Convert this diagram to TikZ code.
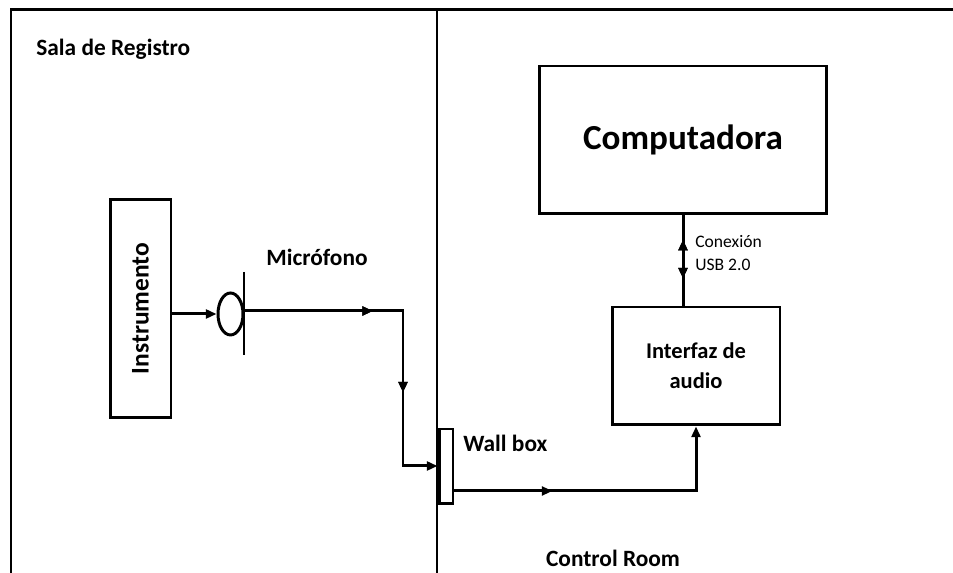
\documentclass[tikz,border=0pt]{standalone}
\usepackage{fontspec}
\setmainfont{Carlito}
\usetikzlibrary{arrows.meta,shapes.geometric,decorations.markings,calc}

\tikzset{
  wire/.style={line width=1.7pt},
  tip/.style={-{Triangle[length=6pt,width=5pt]}},
  blockbox/.style={draw,line width=1.7pt,inner sep=0pt},
  lbl/.style={inner sep=0pt,font=\fontsize{13.3}{15}\selectfont\bfseries},
  small/.style={inner sep=0pt,anchor=west,font=\fontsize{10}{12}\selectfont},
  midarrow/.style={postaction={decorate},decoration={markings,
      mark=at position #1 with {\arrow{Triangle[length=6pt,width=5pt]}}}},
  backarrow/.style={postaction={decorate},decoration={markings,
      mark=at position #1 with {\arrowreversed{Triangle[length=6pt,width=5pt]}}}}
}

\begin{document}
\begin{tikzpicture}[x=0.02cm,y=0.02cm]
  \useasboundingbox (0,0) rectangle (953,573);

  % walls
  \draw[wire] (11,0) -- (11,563) -- (953,563);
  \draw[wire] (437,563) -- (437,0);
  \node[lbl,anchor=west] (sala) at (36,524) {Sala de Registro};
  \node[lbl,anchor=base] (control) at (613,6) {Control Room};

  % recording room
  \node[blockbox,minimum width=1.22cm,minimum height=4.38cm] (instr) at (140.5,264.5) {};
  \node[lbl,rotate=90,font=\fontsize{14.5}{16}\selectfont\bfseries] at (instr) {Instrumento};
  \node[draw,ellipse,line width=1.7pt,inner sep=0pt,minimum width=0.5cm,minimum height=0.84cm] (mic) at (230.5,259) {};
  \coordinate (bartop) at (244,301);
  \coordinate (barbot) at (244,218);
  \draw[wire] (bartop) -- (barbot);
  \node[lbl] (miclbl) at (317,316) {Micrófono};
  \draw[wire,tip] (instr.east |- mic.west) -- (mic.west);

  % wall box
  \node[blockbox,minimum width=0.28cm,minimum height=1.5cm] (wall) at (446,106.5) {};
  \node[lbl,anchor=west] (walllbl) at (463,130) {Wall box};
  \coordinate (micout) at (244,262);
  \draw[wire,tip,midarrow=0.37,midarrow=0.69] (micout) -- (403,262) |- (wall.west |- 0,107);

  % control room
  \node[blockbox,minimum width=3.36cm,minimum height=2.36cm,align=center,
        font=\fontsize{12.8}{17}\selectfont\bfseries] (iface) at (696,207) {Interfaz de\\audio};
  \node[blockbox,minimum width=5.76cm,minimum height=2.96cm,
        font=\fontsize{20}{24}\selectfont\bfseries] (comp) at (683,433) {Computadora};
  \draw[wire,tip,midarrow=0.32] (wall.east |- 0,82) -| (iface.south);
  \draw[wire,midarrow=0.70,backarrow=0.27] (comp.south) -- (comp.south |- iface.north);
  \node[small] (usb1) at (695,331) {Conexión};
  \node[small] (usb2) at (695,308) {USB 2.0};
\end{tikzpicture}
\end{document}
